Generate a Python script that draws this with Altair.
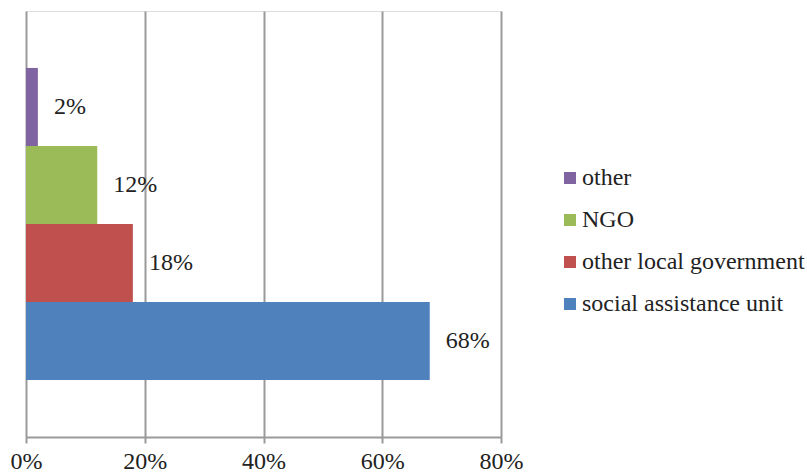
import altair as alt
import pandas as pd

# Share of cases by source of support
sources = ["other", "NGO", "other local government", "social assistance unit"]
shares = [2, 12, 18, 68]
labels = ["2%", "12%", "18%", "68%"]
colors = ["#8064A2", "#9BBB59", "#C0504D", "#4F81BD"]
x_ticks = [0, 20, 40, 60, 80]

df = pd.DataFrame({"source": sources, "share": shares, "label": labels})

FONT = "Liberation Serif"
GRID = "#9A9A9A"
FS = 24

x_enc = alt.X(
    "share:Q",
    scale=alt.Scale(domain=[0, 80], nice=False),
    axis=alt.Axis(
        values=x_ticks,
        labelExpr="datum.value + '%'",
        title=None,
        grid=True,
        gridColor=GRID,
        gridWidth=2,
        domainColor=GRID,
        domainWidth=2,
        tickColor=GRID,
        tickWidth=2,
        tickSize=6,
        labelPadding=6,
        labelFlush=False,
        labelOverlap=False,
        labelFont=FONT,
        labelFontSize=FS,
        labelColor="#222222",
    ),
)
y_enc = alt.Y(
    "source:N",
    sort=sources,
    scale=alt.Scale(paddingInner=0, paddingOuter=0.73),
    axis=None,
)

bars = alt.Chart(df).mark_bar().encode(
    x=x_enc,
    y=y_enc,
    color=alt.Color(
        "source:N",
        sort=sources,
        scale=alt.Scale(domain=sources, range=colors),
        legend=alt.Legend(
            title=None,
            orient="none",
            legendX=532,
            legendY=155,
            symbolType="square",
            symbolSize=144,
            symbolStrokeWidth=0,
            labelFont=FONT,
            labelFontSize=FS,
            labelColor="#222222",
            labelOffset=0,
            labelLimit=400,
            rowPadding=18,
        ),
    ),
)

text = alt.Chart(df).mark_text(
    align="left", baseline="middle", dx=16, font=FONT, fontSize=FS, color="#222222"
).encode(
    x="share:Q",
    y=alt.Y("source:N", sort=sources),
    text="label:N",
)

chart = (
    alt.layer(bars, text)
    .properties(
        width=475,
        height=426,
        autosize=alt.AutoSizeParams(type="none"),
        padding={"left": 26, "top": 11, "right": 306, "bottom": 39},
    )
    .configure_view(strokeWidth=0, stroke="transparent")
    .configure(background="white")
)

chart.save("out.html", embed_options={"renderer": "svg", "actions": False})
